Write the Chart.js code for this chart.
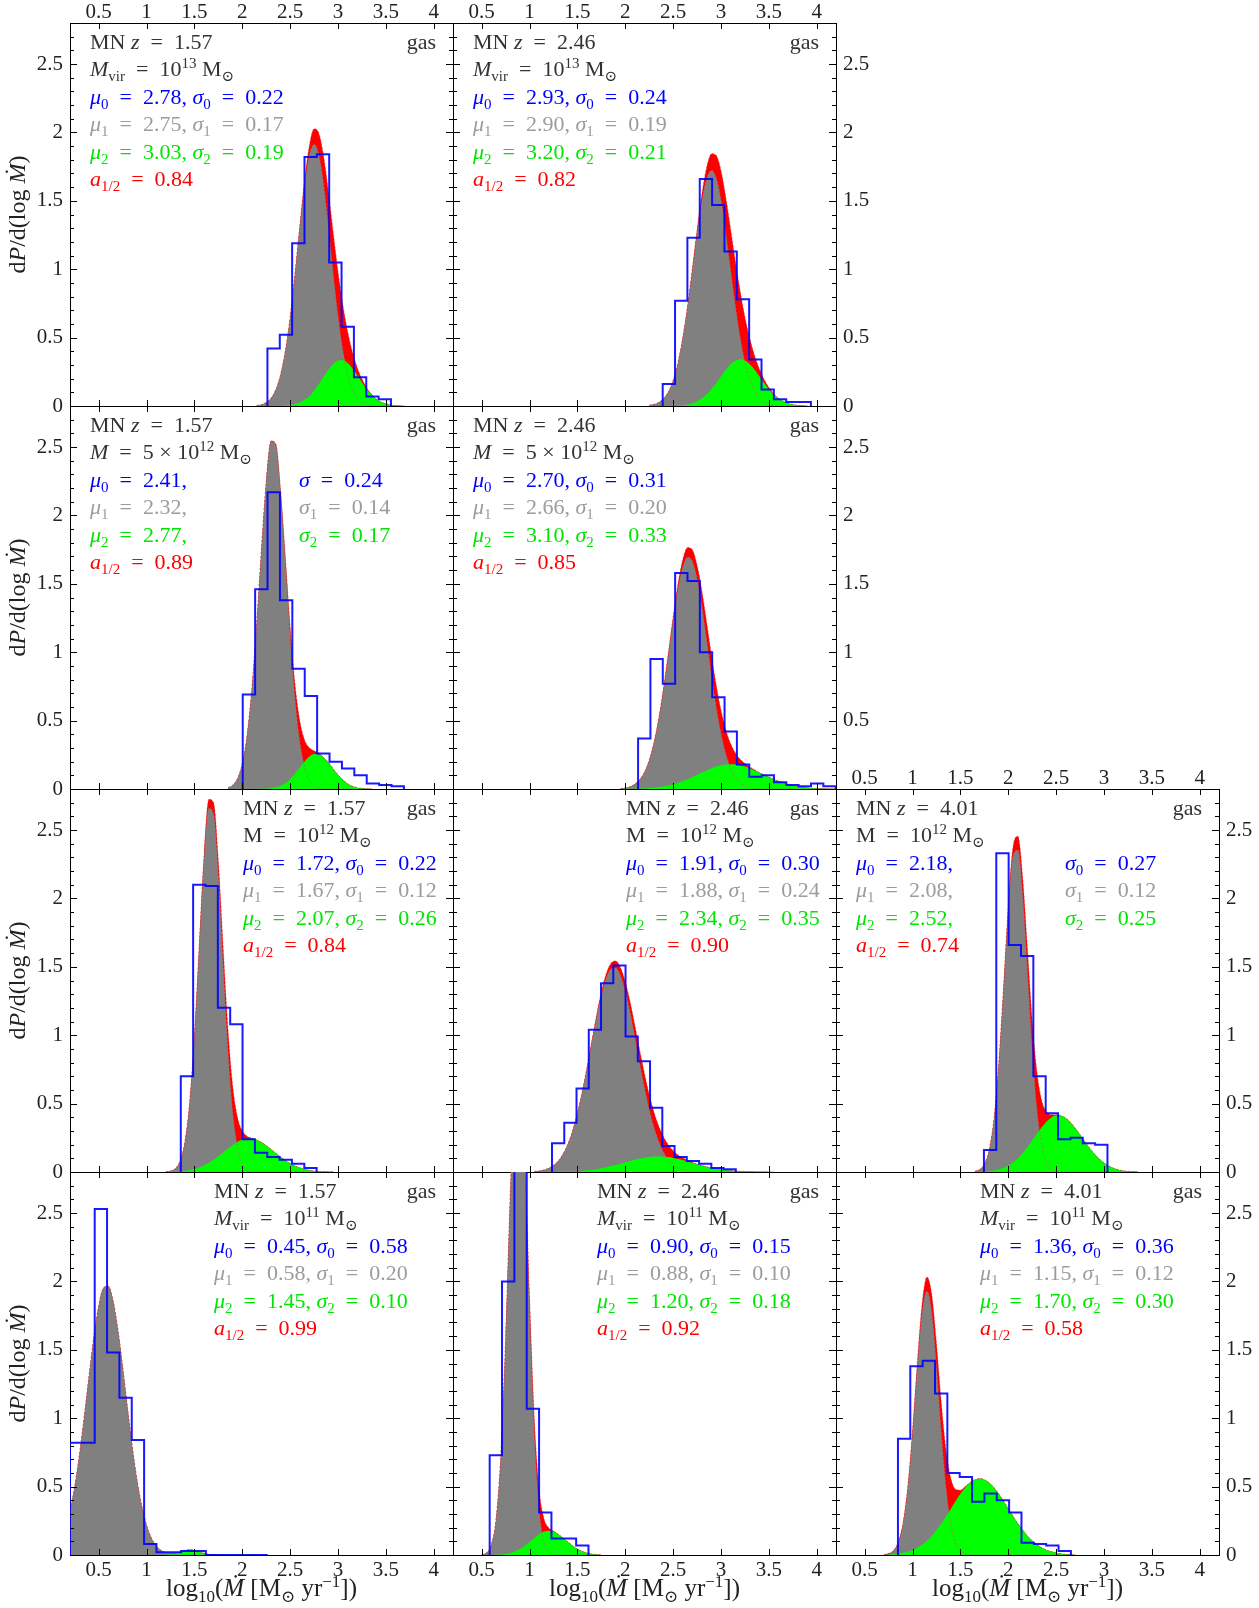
<!DOCTYPE html>
<html>
<head>
<meta charset="utf-8">
<script src="https://cdn.jsdelivr.net/npm/chart.js@4.4.1/dist/chart.umd.min.js"></script>
<style>
  html, body { margin: 0; padding: 0; background: #fff; }
  #fig { position: relative; width: 1259px; height: 1608px; overflow: hidden; background: #fff; }
  #fig canvas { position: absolute; }
</style>
</head>
<body>
<div id="fig"></div>
<script>
// DATA

// fitted curves, sampled every 0.05 in log10(Mdot) starting at curveStart[i]
const STEP = 0.05;
const curveStart = [2.15, 2.25, 1.85, 1.95, 1.20, 1.05, 1.65, 0.10, 0.50, 0.70];

const grayP1 = [0.004,0.010,0.025,0.057,0.120,0.230,0.404,0.648,0.958,1.297,1.608,1.831,1.912,1.831,1.608,1.297,0.958,0.648,0.404,0.230,0.120,0.057,0.025,0.010,0.004,0,0,0,0,0,0,0];
const greenP1 = [0,0,0,0,0,0,0.003,0.007,0.014,0.026,0.045,0.074,0.114,0.161,0.215,0.266,0.307,0.332,0.334,0.314,0.275,0.225,0.172,0.122,0.081,0.050,0.029,0.016,0.008,0.004,0.002,0];

const grayP2 = [0.005,0.012,0.026,0.054,0.104,0.188,0.315,0.496,0.723,0.988,1.260,1.500,1.663,1.722,1.663,1.500,1.260,0.988,0.723,0.496,0.315,0.188,0.104,0.054,0.026,0.012,0.005,0,0,0,0,0,0,0];
const greenP2 = [0,0,0,0,0,0.001,0.003,0.006,0.011,0.020,0.035,0.056,0.085,0.123,0.168,0.218,0.265,0.305,0.332,0.342,0.332,0.305,0.265,0.218,0.168,0.123,0.085,0.056,0.035,0.020,0.011,0.006,0.003,0.001];

const grayP3 = [0.009,0.028,0.077,0.186,0.395,0.738,1.212,1.757,2.250,2.540,2.510,2.153,1.648,1.108,0.657,0.343,0.158,0.064,0.023,0.007,0,0,0,0,0,0,0,0,0,0,0];
const greenP3 = [0,0,0,0,0,0,0,0.001,0.002,0.006,0.012,0.024,0.044,0.073,0.112,0.157,0.201,0.237,0.256,0.254,0.231,0.193,0.147,0.103,0.067,0.039,0.021,0.010,0.005,0.002,0.001];

const grayP4 = [0.003,0.007,0.016,0.034,0.066,0.120,0.207,0.336,0.510,0.729,0.977,1.231,1.458,1.621,1.694,1.662,1.533,1.328,1.080,0.826,0.592,0.400,0.253,0.151,0.084,0.044,0.022,0.010,0.004,0,0,0,0,0,0,0,0,0,0,0,0,0,0,0,0,0];
const greenP4 = [0,0.001,0.001,0.002,0.003,0.004,0.007,0.010,0.014,0.019,0.026,0.035,0.045,0.058,0.072,0.087,0.103,0.120,0.136,0.151,0.164,0.173,0.179,0.181,0.179,0.173,0.164,0.151,0.136,0.120,0.103,0.087,0.072,0.058,0.045,0.035,0.026,0.019,0.014,0.010,0.007,0.004,0.003,0.002,0.001,0.001];

const grayP5 = [0.001,0.006,0.023,0.077,0.214,0.501,0.986,1.635,2.274,2.658,2.611,2.159,1.499,0.876,0.428,0.177,0.062,0.017,0.005,0,0,0,0,0,0,0,0,0,0,0,0,0,0,0,0,0];
const greenP5 = [0.001,0.002,0.003,0.005,0.009,0.014,0.022,0.033,0.048,0.067,0.089,0.115,0.143,0.172,0.198,0.221,0.237,0.245,0.244,0.234,0.217,0.193,0.166,0.137,0.110,0.084,0.062,0.045,0.031,0.020,0.013,0.008,0.005,0.003,0.002,0.001];

const grayP6 = [0.004,0.008,0.015,0.027,0.048,0.080,0.131,0.202,0.300,0.427,0.582,0.757,0.945,1.129,1.293,1.415,1.484,1.491,1.433,1.320,1.164,0.983,0.794,0.615,0.455,0.323,0.220,0.143,0.089,0.053,0.030,0.017,0.009,0.004,0,0,0,0,0,0,0,0,0,0,0,0,0,0,0,0,0];
const greenP6 = [0,0,0,0.001,0.001,0.001,0.002,0.003,0.004,0.006,0.009,0.012,0.016,0.021,0.028,0.035,0.043,0.052,0.061,0.071,0.081,0.090,0.098,0.105,0.110,0.113,0.114,0.112,0.109,0.103,0.095,0.087,0.077,0.067,0.057,0.048,0.039,0.032,0.025,0.019,0.015,0.011,0.008,0.006,0.004,0.003,0.002,0.001,0.001,0,0];

const grayP7 = [0.004,0.016,0.054,0.157,0.379,0.776,1.327,1.911,2.312,2.353,2.014,1.447,0.873,0.444,0.190,0.068,0.020,0.005,0,0,0,0,0,0,0,0,0,0,0,0,0,0,0,0,0];
const greenP7 = [0.001,0.002,0.004,0.007,0.011,0.019,0.031,0.048,0.071,0.101,0.139,0.183,0.231,0.282,0.329,0.370,0.399,0.414,0.412,0.394,0.362,0.320,0.272,0.222,0.173,0.131,0.095,0.066,0.044,0.028,0.017,0.010,0.006,0.003,0.002];

const grayP8 = [0.111,0.196,0.324,0.506,0.741,1.019,1.317,1.600,1.823,1.953,1.965,1.859,1.649,1.377,1.078,0.794,0.549,0.357,0.217,0.125,0.067,0.034,0.016,0.007,0.003,0,0,0,0,0,0,0,0,0,0];
const greenP8 = [0,0,0,0,0,0,0,0,0,0,0,0,0,0,0,0,0,0,0,0,0,0,0.002,0.005,0.013,0.024,0.035,0.040,0.035,0.024,0.013,0.005,0.002,0,0];

const grayP9 = [0.003,0.016,0.073,0.261,0.727,1.578,2.664,3.509,3.597,2.874,1.787,0.866,0.326,0.096,0.022,0.004,0,0,0,0,0,0,0,0,0,0];
const greenP9 = [0,0,0,0.002,0.004,0.008,0.015,0.027,0.044,0.068,0.096,0.125,0.152,0.171,0.177,0.171,0.152,0.125,0.096,0.068,0.044,0.027,0.015,0.008,0.004,0.002];

const grayP10 = [0.002,0.008,0.027,0.085,0.220,0.480,0.883,1.363,1.768,1.928,1.768,1.363,0.883,0.480,0.220,0.085,0.027,0.008,0.002,0,0,0,0,0,0,0,0,0,0,0,0,0,0,0,0,0,0,0,0,0,0];
const greenP10 = [0.002,0.004,0.006,0.010,0.016,0.025,0.037,0.053,0.075,0.104,0.139,0.182,0.230,0.283,0.339,0.395,0.447,0.493,0.528,0.551,0.559,0.551,0.528,0.493,0.447,0.395,0.339,0.283,0.230,0.182,0.139,0.104,0.075,0.053,0.037,0.025,0.016,0.010,0.006,0.004,0.002];

// histograms: first bin edge, bin width, bin heights
const histStart = [2.262, 2.390, 2.004, 2.133, 1.357, 1.234, 1.745, 0.200, 0.583, 0.847];
const histWidth = [0.129, 0.129, 0.1295, 0.129, 0.129, 0.128, 0.129, 0.129, 0.129, 0.129];
const histP1 = [0.42,0.52,1.19,1.82,1.84,1.05,0.58,0.21,0.07,0.05];
const histP2 = [0.16,0.77,1.23,1.66,1.47,1.13,0.78,0.34,0.12,0.05,0.03,0.03];
const histP3 = [0.69,1.46,2.17,1.38,0.88,0.68,0.26,0.20,0.15,0.10,0.04,0.03,0.02];
const histP4 = [0.37,0.95,0.77,1.58,1.52,1.00,0.67,0.42,0.18,0.09,0.10,0.05,0.03,0.02,0.04,0.02];
const histP5 = [0.70,2.10,2.09,1.20,1.08,0.24,0.14,0.11,0.09,0.06,0.03];
const histP6 = [0.21,0.36,0.61,1.04,1.38,1.51,0.99,0.81,0.47,0.19,0.11,0.08,0.06,0.03,0.02];
const histP7 = [0.16,2.33,1.66,1.58,0.70,0.43,0.24,0.25,0.21,0.20];
const histP8 = [0.82,0.82,2.53,1.48,1.15,0.84,0.08,0.02,0.02,0.03,0.03,0,0,0,0,0];
const histP9 = [0.73,2.00,3.40,1.07,0.31,0.12,0.12,0.07];
const histP10 = [0.85,1.38,1.42,1.18,0.60,0.57,0.39,0.45,0.40,0.31,0.09,0.08,0.07,0.03];

// annotation labels
const zLabel = ['1.57','2.46','1.57','2.46','1.57','2.46','4.01','1.57','2.46','4.01'];
const massKind = ['vir13','vir13','5e12','5e12','M12','M12','M12','vir11','vir11','vir11'];
const mu0 = ['2.78','2.93','2.41','2.70','1.72','1.91','2.18','0.45','0.90','1.36'];
const sig0 = ['0.22','0.24','0.24','0.31','0.22','0.30','0.27','0.58','0.15','0.36'];
const mu1 = ['2.75','2.90','2.32','2.66','1.67','1.88','2.08','0.58','0.88','1.15'];
const sig1 = ['0.17','0.19','0.14','0.20','0.12','0.24','0.12','0.20','0.10','0.12'];
const mu2 = ['3.03','3.20','2.77','3.10','2.07','2.34','2.52','1.45','1.20','1.70'];
const sig2 = ['0.19','0.21','0.17','0.33','0.26','0.35','0.25','0.10','0.18','0.30'];
const aHalf = ['0.84','0.82','0.89','0.85','0.84','0.90','0.74','0.99','0.92','0.58'];

const xTickVals = [0.5, 1, 1.5, 2, 2.5, 3, 3.5, 4];
const yTickVals = [0, 0.5, 1, 1.5, 2, 2.5];

const grays = [grayP1, grayP2, grayP3, grayP4, grayP5, grayP6, grayP7, grayP8, grayP9, grayP10];
const greens = [greenP1, greenP2, greenP3, greenP4, greenP5, greenP6, greenP7, greenP8, greenP9, greenP10];
const hists = [histP1, histP2, histP3, histP4, histP5, histP6, histP7, histP8, histP9, histP10];

// LAYOUT
const PW = 383, PH = 383, M = 70;
const colLeft = [70, 453, 836];
const rowTop = [23, 406, 789, 1172];
const panelRow = [0, 0, 1, 1, 2, 2, 2, 3, 3, 3];
const panelCol = [0, 1, 0, 1, 0, 1, 2, 0, 1, 2];
const textX = [20, 20, 20, 20, 173, 173, 20, 144, 144, 144];
const splitX = [0, 0, 229, 0, 0, 0, 229, 0, 0, 0];
const FONT = '"Liberation Serif", "DejaVu Serif", serif';

const C_TEXT = '#333';
const C_BLUE = '#0000ff';
const C_GRAY = '#9c9c9c';
const C_GREEN = '#00e600';
const C_RED = '#ff0000';

function curvePoints(start, ys) {
  return ys.map((y, k) => ({ x: +(start + k * STEP).toFixed(3), y: y }));
}

function sumPoints(start, a, b) {
  return a.map((y, k) => ({ x: +(start + k * STEP).toFixed(3), y: y + b[k] }));
}

function histPoints(start, w, vals) {
  const pts = [{ x: start, y: 0 }];
  vals.forEach((v, k) => pts.push({ x: start + k * w, y: v }));
  const end = start + vals.length * w;
  pts.push({ x: end, y: vals[vals.length - 1] });
  pts.push({ x: end, y: 0 });
  return pts;
}

// rich text: segments of [text, style], style r / i / sub / sup
function drawRich(ctx, segs, x, y, color, measureOnly, base) {
  const B = base || 22;
  let cx = x;
  for (const [t, st] of segs) {
    let size = B, dy = 0, italic = false, txt = t;
    if (st === 'i') italic = true;
    if (st === 'sub') { size = Math.round(B * 0.68); dy = Math.round(B * 0.23); }
    if (st === 'sup') { size = Math.round(B * 0.66); dy = -Math.round(B * 0.36); }
    if (st === 'r') txt = txt.replace(/ = /g, '\u2002=\u2002');
    ctx.font = (italic ? 'italic ' : '') + size + 'px ' + FONT;
    if (!measureOnly) {
      ctx.fillStyle = color;
      ctx.fillText(txt, cx, y + dy);
    }
    cx += ctx.measureText(txt).width;
  }
  return cx - x;
}

function massLine(kind) {
  if (kind === 'vir13') return [['M', 'i'], ['vir', 'sub'], [' = 10', 'r'], ['13', 'sup'], [' M', 'r'], ['\u2299', 'sub']];
  if (kind === 'vir11') return [['M', 'i'], ['vir', 'sub'], [' = 10', 'r'], ['11', 'sup'], [' M', 'r'], ['\u2299', 'sub']];
  if (kind === '5e12') return [['M', 'i'], [' = 5 \u00d7 10', 'r'], ['12', 'sup'], [' M', 'r'], ['\u2299', 'sub']];
  return [['M = 10', 'r'], ['12', 'sup'], [' M', 'r'], ['\u2299', 'sub']];
}

function decoPlugin(i) {
  const row = panelRow[i], col = panelCol[i];
  return {
    id: 'deco' + i,
    afterDraw(chart) {
      const { ctx, chartArea: a, scales } = chart;
      const sx = scales.x, sy = scales.y;
      ctx.save();
      // inward ticks
      ctx.strokeStyle = '#000';
      ctx.lineWidth = 1;
      ctx.beginPath();
      xTickVals.forEach(v => {
        const px = Math.round(sx.getPixelForValue(v)) + 0.5;
        ctx.moveTo(px, a.bottom); ctx.lineTo(px, a.bottom - 6);
        ctx.moveTo(px, a.top); ctx.lineTo(px, a.top + 6);
      });
      for (let k = 1; k < 28; k++) {
        const len = k % 5 === 0 ? 7 : 4;
        const py = Math.round(sy.getPixelForValue(k / 10)) + 0.5;
        ctx.moveTo(a.left, py); ctx.lineTo(a.left + len, py);
        ctx.moveTo(a.right, py); ctx.lineTo(a.right - len, py);
      }
      ctx.stroke();

      // annotation block
      ctx.textAlign = 'left';
      ctx.textBaseline = 'alphabetic';
      const x0 = a.left + textX[i];
      const yl = k => a.top + 26 + 27.4 * k;
      drawRich(ctx, [['MN ', 'r'], ['z', 'i'], [' = ' + zLabel[i], 'r']], x0, yl(0), C_TEXT);
      const gw = drawRich(ctx, [['gas', 'r']], 0, 0, C_TEXT, true);
      drawRich(ctx, [['gas', 'r']], a.right - 17 - gw, yl(0), C_TEXT);
      drawRich(ctx, massLine(massKind[i]), x0, yl(1), C_TEXT);

      const fits = [[mu0[i], sig0[i], '0', C_BLUE], [mu1[i], sig1[i], '1', C_GRAY], [mu2[i], sig2[i], '2', C_GREEN]];
      fits.forEach(([mu, sg, k, c], n) => {
        const sSub = (i === 2 && k === '0') ? '' : k;
        if (splitX[i]) {
          drawRich(ctx, [['\u03bc', 'i'], [k, 'sub'], [' = ' + mu + ',', 'r']], x0, yl(2 + n), c);
          drawRich(ctx, [['\u03c3', 'i'], [sSub, 'sub'], [' = ' + sg, 'r']], a.left + splitX[i], yl(2 + n), c);
        } else {
          drawRich(ctx, [['\u03bc', 'i'], [k, 'sub'], [' = ' + mu + ', ', 'r'], ['\u03c3', 'i'], [sSub, 'sub'], [' = ' + sg, 'r']], x0, yl(2 + n), c);
        }
      });
      drawRich(ctx, [['a', 'i'], ['1/2', 'sub'], [' = ' + aHalf[i], 'r']], x0, yl(5), C_RED);

      // axis titles
      if (col === 0) {
        const segs = [['d', 'r'], ['P', 'i'], ['/d(log ', 'r'], ['\u1e40', 'i'], [')', 'r']];
        const w = drawRich(ctx, segs, 0, 0, '#222', true, 24);
        ctx.save();
        ctx.translate(25, a.top + PH / 2);
        ctx.rotate(-Math.PI / 2);
        drawRich(ctx, segs, -w / 2, 0, '#222', false, 24);
        ctx.restore();
      }
      if (row === 3) {
        const segs = [['log', 'r'], ['10', 'sub'], ['(', 'r'], ['\u1e40', 'i'], [' [M', 'r'], ['\u2299', 'sub'], [' yr', 'r'], ['\u22121', 'sup'], ['])', 'r']];
        const w = drawRich(ctx, segs, 0, 0, '#222', true, 25);
        drawRich(ctx, segs, a.left + PW / 2 - w / 2, a.bottom + 41, '#222', false, 25);
      }
      ctx.restore();
    }
  };
}

function xAxis(pos, show) {
  return {
    type: 'linear', position: pos, min: 0.2, max: 4.2, z: 1,
    afterFit: s => { s.height = M; },
    afterBuildTicks: s => { s.ticks = xTickVals.map(v => ({ value: v })); },
    ticks: { display: show, autoSkip: false, maxRotation: 0, padding: pos === 'top' ? -2 : 3, color: '#222',
             font: { family: FONT, size: 21 }, callback: v => String(v) },
    grid: { display: false, drawTicks: false },
    border: { display: true, color: '#000', width: 1 }
  };
}

function yAxis(pos, show, noZero) {
  return {
    type: 'linear', position: pos, min: 0, max: 2.8, z: 1,
    afterFit: s => { s.width = M; },
    afterBuildTicks: s => { s.ticks = yTickVals.map(v => ({ value: v })); },
    ticks: { display: show, autoSkip: false, padding: 7, color: '#222',
             font: { family: FONT, size: 21 }, callback: v => (noZero && v === 0) ? '' : String(v) },
    grid: { display: false, drawTicks: false },
    border: { display: true, color: '#000', width: 1 }
  };
}

const fig = document.getElementById('fig');

for (let i = 0; i < 10; i++) {
  const row = panelRow[i], col = panelCol[i];
  const cv = document.createElement('canvas');
  cv.width = PW + 2 * M;
  cv.height = PH + 2 * M;
  cv.style.width = cv.width + 'px';
  cv.style.height = cv.height + 'px';
  cv.style.left = (colLeft[col] - M) + 'px';
  cv.style.top = (rowTop[row] - M) + 'px';
  fig.appendChild(cv);

  const gPts = curvePoints(curveStart[i], grays[i]);
  const grPts = curvePoints(curveStart[i], greens[i]);
  const sPts = sumPoints(curveStart[i], grays[i], greens[i]);
  const hPts = histPoints(histStart[i], histWidth[i], hists[i]);

  const showLeft = col === 0;
  const showRight = [1, 3, 6, 9].includes(i);
  const showTop = [0, 1, 6].includes(i);
  const showBottom = row === 3;

  new Chart(cv, {
    type: 'line',
    data: {
      datasets: [
        { label: 'histogram', data: hPts, stepped: 'before', borderColor: 'rgba(0,0,255,0.9)', borderWidth: 2,
          fill: false, pointRadius: 0, order: 0 },
        { label: 'sum edge', data: sPts, borderColor: 'rgba(200,60,60,0.55)', borderWidth: 1, borderDash: [2, 2],
          fill: false, pointRadius: 0, cubicInterpolationMode: 'monotone', order: 1 },
        { label: 'gauss 1 edge', data: gPts, borderColor: 'rgba(170,110,110,0.75)', borderWidth: 1, borderDash: [2, 2],
          fill: false, pointRadius: 0, cubicInterpolationMode: 'monotone', order: 2 },
        { label: 'gauss 2', data: grPts, borderColor: 'transparent', borderWidth: 0, backgroundColor: '#00ff00',
          fill: 'origin', pointRadius: 0, cubicInterpolationMode: 'monotone', order: 3 },
        { label: 'gauss 1', data: gPts, borderColor: 'transparent', borderWidth: 0, backgroundColor: '#808080',
          fill: 'origin', pointRadius: 0, cubicInterpolationMode: 'monotone', order: 4 },
        { label: 'sum', data: sPts, borderColor: 'transparent', borderWidth: 0, backgroundColor: '#ff0000',
          fill: 'origin', pointRadius: 0, cubicInterpolationMode: 'monotone', order: 5 }
      ]
    },
    options: {
      responsive: false,
      animation: false,
      devicePixelRatio: 1,
      layout: { padding: 0 },
      plugins: { legend: { display: false }, tooltip: { enabled: false } },
      scales: {
        x: xAxis('bottom', showBottom),
        xTop: xAxis('top', showTop),
        y: yAxis('left', showLeft, false),
        yRight: yAxis('right', showRight, i === 3)
      }
    },
    plugins: [decoPlugin(i)]
  });
}
</script>
</body>
</html>
